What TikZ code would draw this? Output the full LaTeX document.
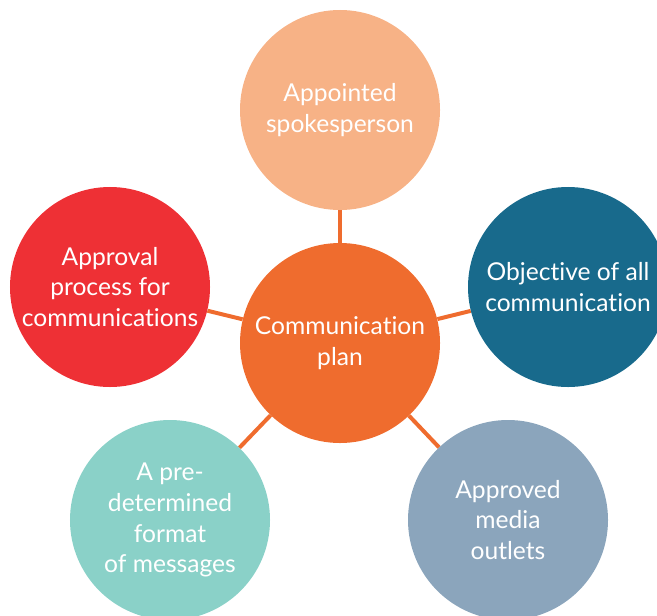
\documentclass[tikz,border=0pt]{standalone}
\usepackage{fontspec}
\setmainfont{Lato}[Ligatures=NoCommon]
\usetikzlibrary{backgrounds}

\definecolor{planorange}{HTML}{EF6C2E}
\definecolor{spokesalmon}{HTML}{F7B286}
\definecolor{objblue}{HTML}{186A8C}
\definecolor{approvred}{HTML}{EE3035}
\definecolor{formatteal}{HTML}{8AD1C8}
\definecolor{mediagray}{HTML}{8BA5BC}

\begin{document}
\begin{tikzpicture}[
  x=0.03cm, y=-0.03cm,
  bubble/.style={circle, minimum size=6cm, inner sep=0pt, text=white, align=center,
    font=\fontsize{21}{26.4}\selectfont},
  spoke/.style={draw=planorange, line width=3.4pt}
]
  \useasboundingbox (0,0) rectangle (657,615);
  \clip (0,0) rectangle (657,615);

  \node[bubble, fill=planorange] (plan) at (340,343) {Communication\\plan};
  \node[bubble, fill=spokesalmon] (spokes) at (340,110) {Appointed\\spokesperson};
  \node[bubble, fill=objblue] (objective) at (568,287) {Objective of all\\communication};
  \node[bubble, fill=approvred] (approval) at (110,287) {Approval\\process for\\communications};
  \node[bubble, fill=formatteal] (format) at (170,520) {A pre-\\determined\\format\\of messages};
  \node[bubble, fill=mediagray] (media) at (508,520) {Approved\\media\\outlets};

  \begin{scope}[on background layer]
    \draw[spoke] (plan) -- (spokes);
    \draw[spoke] (plan) -- (objective);
    \draw[spoke] (plan) -- (approval);
    \draw[spoke] (plan) -- (format);
    \draw[spoke] (plan) -- (media);
  \end{scope}
\end{tikzpicture}
\end{document}
